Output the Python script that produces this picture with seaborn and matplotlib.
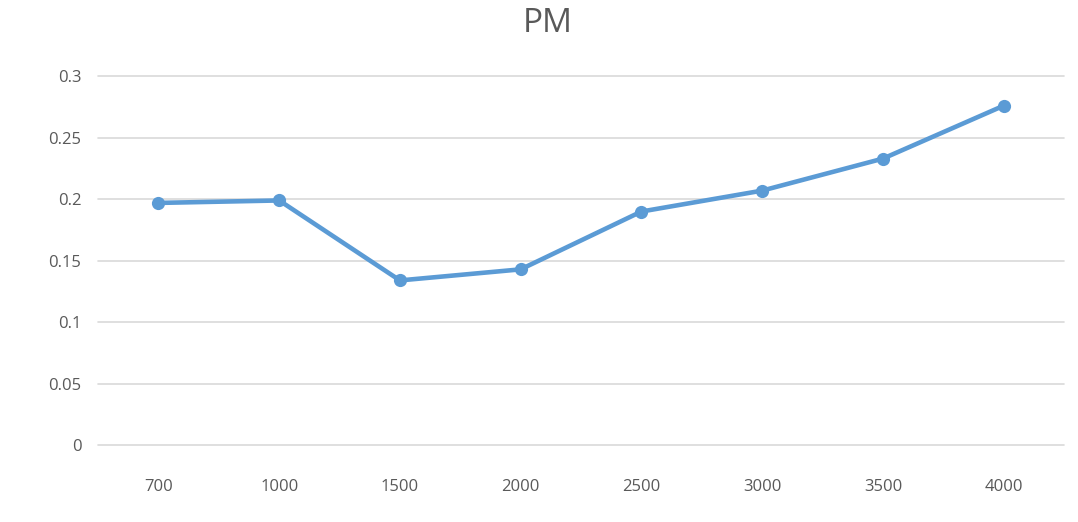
import matplotlib
matplotlib.use("Agg")
import matplotlib.pyplot as plt
import seaborn as sns
import pandas as pd

# PM values by category
categories = ["700", "1000", "1500", "2000", "2500", "3000", "3500", "4000"]
pm_values = [0.197, 0.199, 0.134, 0.143, 0.190, 0.207, 0.233, 0.276]
y_ticks = [0, 0.05, 0.1, 0.15, 0.2, 0.25, 0.3]
y_tick_labels = ["0", "0.05", "0.1", "0.15", "0.2", "0.25", "0.3"]

sns.set_theme(style="white")
plt.rcParams["font.family"] = ["Open Sans", "DejaVu Sans"]

df = pd.DataFrame({"x": categories, "pm": pm_values})

fig = plt.figure(figsize=(10.78, 5.22), dpi=100)
ax = fig.add_axes([0.091, 0.147, 0.896, 0.707])

line_color = "#5B9BD5"
sns.lineplot(data=df, x="x", y="pm", ax=ax, color=line_color, linewidth=3.3,
             marker="o", markersize=9.5, markeredgewidth=0, sort=False)

ax.set_xlim(-0.5, len(categories) - 0.5)
ax.set_ylim(0, 0.3)
ax.set_yticks(y_ticks)
ax.set_yticklabels(y_tick_labels)
ax.yaxis.grid(True, color="#D9D9D9", linewidth=1.2)
ax.xaxis.grid(False)
ax.set_axisbelow(True)
for gl in ax.get_ygridlines():
    gl.set_clip_on(False)
for s in ax.spines.values():
    s.set_visible(False)
ax.tick_params(axis="both", length=0, colors="#595959", labelsize=12)
ax.tick_params(axis="y", pad=12)
ax.tick_params(axis="x", pad=24)
ax.set_xlabel("")
ax.set_ylabel("")

fig.text(0.508, 0.955, "PM", ha="center", va="center", fontsize=24, color="#595959")

fig.savefig("out.png", dpi=100)
